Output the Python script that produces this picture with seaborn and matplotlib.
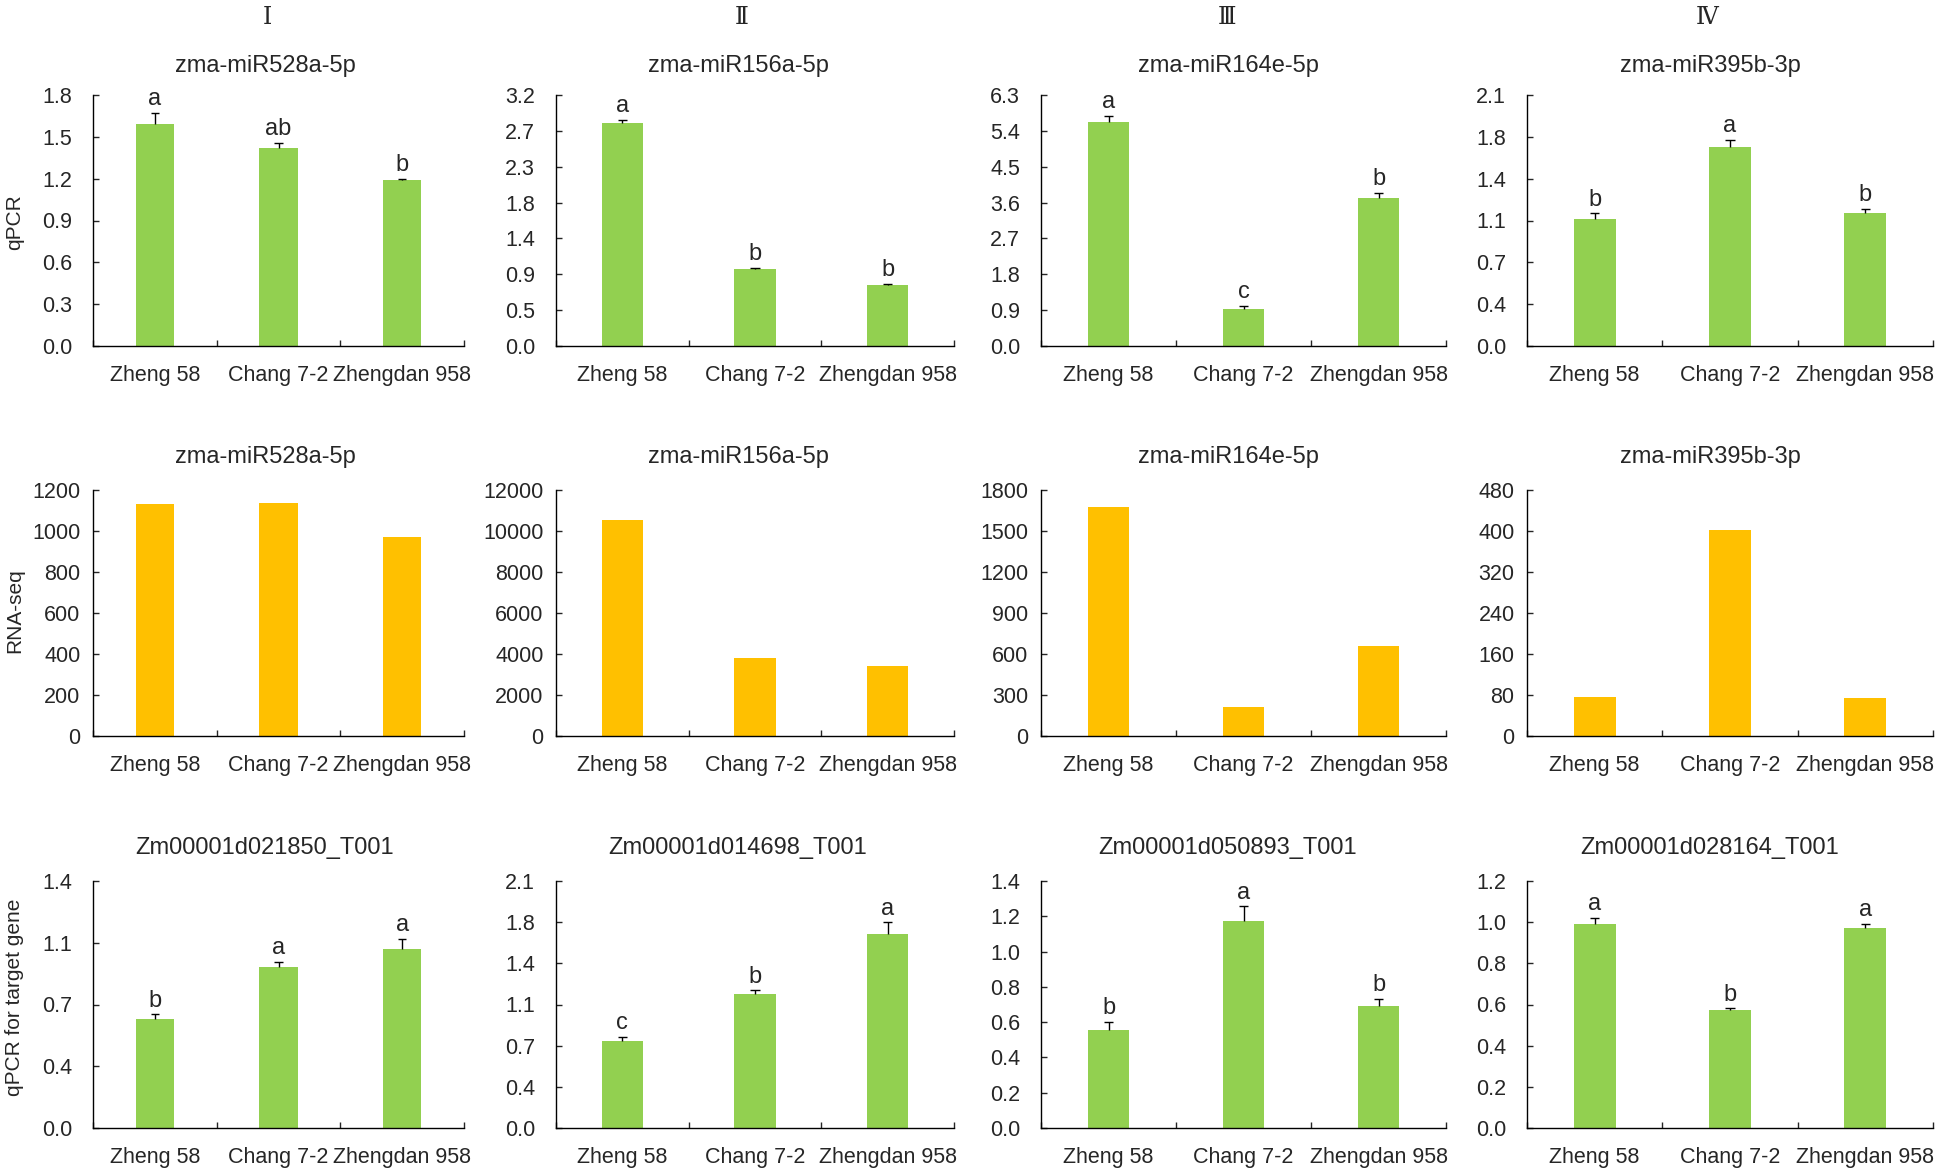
import numpy as np
import matplotlib
matplotlib.use("Agg")
import matplotlib.pyplot as plt
import seaborn as sns

# -------------------------
# data
# -------------------------
cultivars = ["Zheng 58", "Chang 7-2", "Zhengdan 958"]
roman = ["Ⅰ", "Ⅱ", "Ⅲ", "Ⅳ"]

mirna_names = ["zma-miR528a-5p", "zma-miR156a-5p", "zma-miR164e-5p", "zma-miR395b-3p"]
target_names = ["Zm00001d021850_T001", "Zm00001d014698_T001",
                "Zm00001d050893_T001", "Zm00001d028164_T001"]

mirna_qpcr = [[1.594, 1.422, 1.187],
              [2.842, 0.987, 0.772],
              [5.63, 0.92, 3.715],
              [1.062, 1.668, 1.112]]
mirna_qpcr_err = [[0.08, 0.036, 0.01],
                  [0.04, 0.012, 0.017],
                  [0.14, 0.09, 0.12],
                  [0.047, 0.057, 0.038]]
mirna_letters = [["a", "ab", "b"], ["a", "b", "b"], ["a", "c", "b"], ["b", "a", "b"]]

rnaseq = [[1133, 1139, 969],
          [10520, 3805, 3415],
          [1676, 212, 662],
          [75.7, 401, 73.7]]

target_qpcr = [[0.619, 0.913, 1.017],
               [0.736, 1.136, 1.649],
               [0.553, 1.176, 0.690],
               [0.990, 0.571, 0.970]]
target_qpcr_err = [[0.025, 0.03, 0.057],
                   [0.036, 0.034, 0.10],
                   [0.05, 0.08, 0.044],
                   [0.032, 0.01, 0.02]]
target_letters = [["b", "a", "a"], ["c", "b", "a"], ["b", "a", "b"], ["a", "b", "a"]]

# y axis: max value and the tick labels as printed
mirna_ymax = [1.8, 3.2, 6.3, 2.1]
mirna_yticks = [["0.0", "0.3", "0.6", "0.9", "1.2", "1.5", "1.8"],
                ["0.0", "0.5", "0.9", "1.4", "1.8", "2.3", "2.7", "3.2"],
                ["0.0", "0.9", "1.8", "2.7", "3.6", "4.5", "5.4", "6.3"],
                ["0.0", "0.4", "0.7", "1.1", "1.4", "1.8", "2.1"]]
rnaseq_ymax = [1200, 12000, 1800, 480]
rnaseq_yticks = [["0", "200", "400", "600", "800", "1000", "1200"],
                 ["0", "2000", "4000", "6000", "8000", "10000", "12000"],
                 ["0", "300", "600", "900", "1200", "1500", "1800"],
                 ["0", "80", "160", "240", "320", "400", "480"]]
target_ymax = [1.4, 2.1, 1.4, 1.2]
target_yticks = [["0.0", "0.4", "0.7", "1.1", "1.4"],
                 ["0.0", "0.4", "0.7", "1.1", "1.4", "1.8", "2.1"],
                 ["0.0", "0.2", "0.4", "0.6", "0.8", "1.0", "1.2", "1.4"],
                 ["0.0", "0.2", "0.4", "0.6", "0.8", "1.0", "1.2"]]

row_ylabels = ["qPCR", "RNA-seq", "qPCR for target gene"]

GREEN = "#92D050"
ORANGE = "#FFC000"

# -------------------------
# layout (pixels)
# -------------------------
W, H = 1946, 1169
col_left = [93, 556, 1041, 1527]
col_right = [464, 954, 1446, 1933]
row_top = [95, 490, 881]
row_bottom = [346, 736, 1128]
title_x = [265, 738, 1228, 1710]
title_y = [66, 457, 848]
roman_x = [267, 742, 1227, 1707]
ylabel_y = [222, 611, 997]

sns.set_style("ticks")
plt.rcParams["font.family"] = ["Liberation Sans", "DejaVu Sans"]

fig = plt.figure(figsize=(W / 100, H / 100), dpi=100)


def draw_panel(ax, vals, ymax, ylabels, color, err=None, letters=None, pad=15):
    sns.barplot(x=cultivars, y=vals, color=color, saturation=1, width=0.31,
                linewidth=0, ax=ax, zorder=2)
    if err is not None:
        x = np.arange(3)
        top = np.array(vals) + np.array(err)
        # one-sided (upper) error bars, cap only at the top
        ax.vlines(x, vals, top, color="black", lw=1, zorder=3)
        ax.hlines(top, x - 0.035, x + 0.035, color="black", lw=1, zorder=3)
        for i, t in enumerate(letters):
            ax.annotate(t, (i, top[i]), xytext=(0, 2), textcoords="offset points",
                        ha="center", va="bottom", fontsize=17)
    ax.set_xlim(-0.5, 2.5)
    ax.set_ylim(0, ymax)
    ax.set_yticks(np.linspace(0, ymax, len(ylabels)))
    ax.set_yticklabels(ylabels)
    ax.set_xticks([0, 1, 2])
    ax.set_xticklabels(cultivars)
    ax.set_xticks([-0.5, 0.5, 1.5, 2.5], minor=True)
    ax.tick_params(axis="x", which="major", length=0, pad=14, labelsize=15.5)
    ax.tick_params(axis="x", which="minor", direction="in", length=4, width=1)
    ax.tick_params(axis="y", direction="in", length=4.5, width=1, pad=pad,
                   labelsize=15.5)
    ax.set_xlabel("")
    ax.set_ylabel("")
    for s in ["top", "right"]:
        ax.spines[s].set_visible(False)
    for s in ["left", "bottom"]:
        ax.spines[s].set_linewidth(1)
        ax.spines[s].set_color("black")
        ax.spines[s].set_zorder(4)


for r in range(3):
    for c in range(4):
        rect = [col_left[c] / W, 1 - row_bottom[r] / H,
                (col_right[c] - col_left[c]) / W, (row_bottom[r] - row_top[r]) / H]
        ax = fig.add_axes(rect)
        if r == 0:
            draw_panel(ax, mirna_qpcr[c], mirna_ymax[c], mirna_yticks[c], GREEN,
                       mirna_qpcr_err[c], mirna_letters[c])
            title = mirna_names[c]
        elif r == 1:
            draw_panel(ax, rnaseq[c], rnaseq_ymax[c], rnaseq_yticks[c], ORANGE, pad=9)
            title = mirna_names[c]
        else:
            draw_panel(ax, target_qpcr[c], target_ymax[c], target_yticks[c], GREEN,
                       target_qpcr_err[c], target_letters[c])
            title = target_names[c]
        fig.text(title_x[c] / W, 1 - title_y[r] / H, title, ha="center",
                 va="center", fontsize=17)

for c in range(4):
    fig.text(roman_x[c] / W, 1 - 17 / H, roman[c], ha="center", va="center",
             fontsize=17, family=["DejaVu Serif", "Noto Sans CJK SC"])

for r in range(3):
    fig.text(15 / W, 1 - ylabel_y[r] / H, row_ylabels[r], ha="center",
             va="center", rotation=90, fontsize=15)

fig.savefig("out.png", dpi=100)
